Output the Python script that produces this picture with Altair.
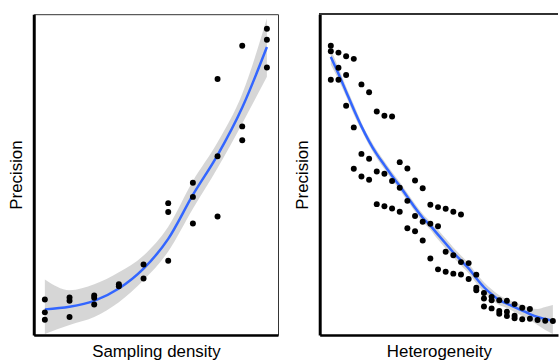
import altair as alt
import pandas as pd

# ---------------- Left panel: Sampling density ----------------
sd_x = [1, 1, 1, 2, 2, 2, 3, 3, 3, 4, 4, 5, 5, 6, 6, 6, 7, 7, 7, 8, 8, 8, 9, 9, 9, 10, 10, 10]
sd_prec = [35.7, 22.7, 15.3, 37.7, 34.3, 18.0, 39.7, 37.3, 30.7, 51.0, 49.0, 71.0, 56.7,
           132.7, 123.7, 74.7, 153.3, 139.0, 112.3, 257.7, 180.0, 119.3, 291.3, 210.0, 196.0,
           308.3, 297.3, 269.3]

sd_fit_x = [1, 2, 3, 4, 5, 6, 7, 8, 9, 10]
sd_fit = [25.7, 28.3, 34.3, 46.7, 66.7, 96.7, 141.0, 181.0, 229.0, 290.0]
sd_fit_lo = [1.0, 10.0, 18.0, 33.0, 55.0, 84.0, 127.0, 168.0, 213.0, 260.0]
sd_fit_hi = [55.7, 45.0, 51.0, 63.0, 80.0, 109.0, 155.0, 194.0, 243.0, 319.0]

# ---------------- Right panel: Heterogeneity ----------------
het_x = [0, 0, 0, 1, 1, 1, 2, 2, 2, 3, 3, 3, 4, 4, 4, 5, 5, 5, 6, 6, 6, 7, 7, 7,
         8, 8, 8, 9, 9, 9, 10, 10, 10, 11, 11, 11, 12, 12, 12, 13, 13, 13, 14, 14, 14,
         15, 15, 15, 16, 16, 16, 17, 17, 17, 18, 18, 19, 19, 19, 20, 20, 20, 21, 21, 21,
         22, 22, 22, 23, 23, 23, 24, 24, 24, 25, 25, 26, 26, 27, 28, 29]
het_prec = [291.3, 285.7, 257.0, 284.3, 269.0, 257.0, 280.7, 261.7, 230.7, 278.0, 209.0, 167.3,
            252.3, 182.3, 159.5, 244.3, 177.5, 156.2, 225.0, 164.5, 131.7, 220.7, 162.3, 129.5,
            220.0, 155.0, 127.2, 174.0, 148.3, 124.0, 167.5, 135.0, 107.5, 155.5, 119.8, 104.3,
            147.7, 114.0, 95.0, 131.0, 112.0, 77.0, 128.7, 109.5, 66.0, 127.0, 83.7, 63.5,
            124.0, 80.3, 61.7, 121.3, 73.3, 60.8, 72.3, 56.2, 60.7, 47.5, 45.0,
            42.3, 36.7, 28.7, 38.3, 35.0, 26.7, 35.0, 24.0, 21.3, 34.3, 23.3, 19.0,
            31.0, 19.3, 16.7, 27.3, 15.8, 26.0, 16.2, 15.0, 14.3, 14.0]

het_fit_x = list(range(30))
het_fit = [280, 263, 245, 227, 210, 195, 182, 171, 160, 150, 139, 128, 118, 110, 101,
           92, 83, 75, 67, 57, 48, 41, 35, 31.5, 28, 24.5, 21, 18, 16, 14.3]
het_fit_lo = [272, 257, 240, 222, 206, 191, 178, 167, 156, 146, 135, 124, 114, 106, 96,
              87, 78, 70, 62, 52, 43, 36, 30, 27, 23, 19, 15, 10, 5, 1]
het_fit_hi = [288, 269, 250, 232, 214, 199, 186, 175, 164, 154, 143, 132, 122, 114, 106,
              97, 88, 80, 72, 62, 53, 46, 40, 36, 33, 30, 27, 26, 28, 30]

Y_DOMAIN = [0, 323]
FONT = "Liberation Sans"
FRAME = "#333333"


def panel(px, py, fx, fy, flo, fhi, xdom, xtitle, width, full_frame):
    pts = pd.DataFrame({"x": px, "y": py})
    fit = pd.DataFrame({"x": fx, "y": fy, "lo": flo, "hi": fhi})
    xs = alt.Scale(domain=xdom, nice=False, zero=False)
    ys = alt.Scale(domain=Y_DOMAIN, nice=False, zero=False)
    xax = alt.Axis(title=xtitle, labels=False, ticks=False, grid=False,
                   domainColor="black", domainWidth=2.5, titlePadding=9,
                   titleFont=FONT, titleFontSize=17, titleFontWeight="normal",
                   titleColor="black")
    yax = alt.Axis(title="Precision", labels=False, ticks=False, grid=False,
                   domainColor="black", domainWidth=3, titlePadding=8,
                   titleFont=FONT, titleFontSize=17, titleFontWeight="normal",
                   titleColor="black")
    band = alt.Chart(fit).mark_area(color="#999999", opacity=0.4,
                                    interpolate="monotone", clip=True).encode(
        x=alt.X("x:Q", scale=xs, axis=xax),
        y=alt.Y("lo:Q", scale=ys, axis=yax),
        y2="hi:Q",
    )
    line = alt.Chart(fit).mark_line(color="#3366FF", strokeWidth=2.5,
                                    interpolate="monotone", clip=True).encode(
        x=alt.X("x:Q", scale=xs),
        y=alt.Y("y:Q", scale=ys),
    )
    dots = alt.Chart(pts).mark_circle(size=36, color="black", opacity=1).encode(
        x=alt.X("x:Q", scale=xs),
        y=alt.Y("y:Q", scale=ys),
    )
    layers = [band, line, dots]
    if full_frame:
        view = alt.ViewBackground(stroke=FRAME, strokeWidth=1)
    else:
        view = alt.ViewBackground(stroke=None)
        top = alt.Chart(pts).mark_rule(color=FRAME, strokeWidth=1).encode(
            x=alt.value(0), x2=alt.value(width), y=alt.value(0)
        )
        layers.append(top)
    return alt.layer(*layers).properties(width=width, height=323, view=view)


left = panel(sd_x, sd_prec, sd_fit_x, sd_fit, sd_fit_lo, sd_fit_hi,
             [0.55, 10.45], "Sampling density", 246, True)
# right panel runs off the right edge of the figure, as in the original
right = panel(het_x, het_prec, het_fit_x, het_fit, het_fit_lo, het_fit_hi,
              [-1.45, 29.67], "Heterogeneity", 240, False)

chart = alt.hconcat(left, right, spacing=15).properties(
    padding={"left": 7, "top": 12, "right": 0, "bottom": 0},
    background="white",
)

chart.save("out.html", embed_options={"renderer": "svg", "actions": False})
